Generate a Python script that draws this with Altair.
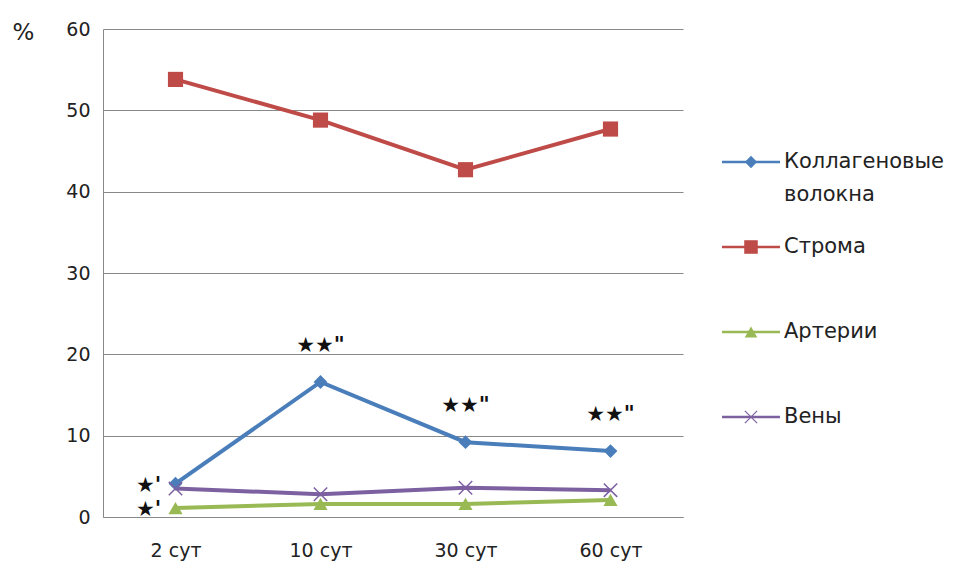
import altair as alt
import pandas as pd

categories = ["2 сут", "10 сут", "30 сут", "60 сут"]
series_names = ["Коллагеновые волокна", "Строма", "Артерии", "Вены"]
legend_line1 = ["Коллагеновые", "Строма", "Артерии", "Вены"]
legend_line2 = ["волокна", "", "", ""]
collagen = [4.1, 16.6, 9.2, 8.1]
stroma = [53.8, 48.8, 42.7, 47.7]
arteries = [1.1, 1.6, 1.6, 2.1]
veins = [3.5, 2.8, 3.6, 3.3]
colors = ["#4a7ebb", "#be4b48", "#98b954", "#7d60a0"]

top_marks_cat = ["10 сут", "30 сут", "60 сут"]
top_marks_text = ["★★\"", "★★\"", "★★\""]
left_marks_text = ["★'", "★'"]

rows = []
for name, vals in zip(series_names, [collagen, stroma, arteries, veins]):
    for i, (c, v) in enumerate(zip(categories, vals)):
        rows.append({"cat": c, "order": i, "series": name, "value": v})
df = pd.DataFrame(rows)

FONT = "DejaVu Sans"

x_enc = alt.X("cat:N", sort=categories, scale=alt.Scale(domain=categories, paddingInner=0, paddingOuter=0),
              axis=alt.Axis(title=None, labelAngle=0, ticks=False, labelPadding=24, grid=False))
y_enc = alt.Y("value:Q", scale=alt.Scale(domain=[0, 60]),
              axis=alt.Axis(values=[0, 10, 20, 30, 40, 50, 60], title="%", titleAngle=0, titleAlign="left",
                            titleBaseline="middle", titleX=-91, titleY=3, labelPadding=13, ticks=False))

color_scale = alt.Scale(domain=series_names, range=colors)
base = alt.Chart(df).encode(x=x_enc, y=y_enc)

lines = base.mark_line(strokeWidth=4).encode(
    color=alt.Color("series:N", scale=color_scale, legend=None),
    order=alt.Order("order:Q"),
)

shape_map = {"Коллагеновые волокна": ("diamond", 190), "Строма": ("square", 230), "Артерии": ("triangle-up", 200)}
X_PATH = "M-1,-1L1,1M-1,1L1,-1"
point_layers = []
for name, (shp, sz) in shape_map.items():
    point_layers.append(
        base.transform_filter(alt.datum.series == name).mark_point(shape=shp, filled=True, size=sz, opacity=1).encode(
            color=alt.Color("series:N", scale=color_scale, legend=None))
    )
point_layers.append(
    base.transform_filter(alt.datum.series == "Вены").mark_point(
        shape=X_PATH, filled=False, size=180, strokeWidth=1.5, opacity=1).encode(
        color=alt.Color("series:N", scale=color_scale, legend=None))
)

top_df = df[(df["series"] == series_names[0]) & (df["cat"].isin(top_marks_cat))].copy()
top_df["txt"] = top_marks_text
top_text = alt.Chart(top_df).mark_text(font="DejaVu Sans", fontSize=21, fontWeight="bold", dy=-36, color="#111").encode(
    x=x_enc, y=y_enc, text="txt:N")

left_df = df[(df["cat"] == categories[0]) & (df["series"].isin([series_names[0], series_names[2]]))].copy()
left_df["txt"] = left_marks_text
left_text = alt.Chart(left_df).mark_text(font="DejaVu Sans", fontSize=21, fontWeight="bold", dx=-27, dy=2, color="#111").encode(
    x=x_enc, y=y_enc, text="txt:N")

main = alt.layer(lines, *point_layers, top_text, left_text)

# Legend drawn from the series list through its own point scale
legend_df = pd.DataFrame({"series": series_names, "line1": legend_line1, "line2": legend_line2})
lg = alt.Chart(legend_df)
ly = alt.Y("series:N", sort=series_names,
           scale=alt.Scale(type="point", domain=series_names, range=[133, 388], padding=0), axis=None)
lcolor = alt.Color("series:N", scale=color_scale, legend=None)

leg_rule = lg.mark_rule(strokeWidth=2.5).encode(x=alt.value(619), x2=alt.value(677), y=ly, color=lcolor)
leg_pts = []
for name, (shp, sz) in shape_map.items():
    leg_pts.append(
        lg.transform_filter(alt.datum.series == name).mark_point(shape=shp, filled=True, size=int(sz * 0.8), opacity=1).encode(
            x=alt.value(648), y=ly, color=lcolor)
    )
leg_pts.append(
    lg.transform_filter(alt.datum.series == "Вены").mark_point(shape=X_PATH, filled=False, size=150, strokeWidth=1.2, opacity=1).encode(
        x=alt.value(648), y=ly, color=lcolor)
)
leg_text1 = lg.mark_text(align="left", baseline="middle", font=FONT, fontSize=21, color="#222").encode(
    x=alt.value(681), y=ly, text="line1:N")
leg_text2 = lg.mark_text(align="left", baseline="middle", font=FONT, fontSize=21, color="#222", dy=33).encode(
    x=alt.value(681), y=ly, text="line2:N")

legend_group = alt.layer(leg_rule, *leg_pts, leg_text1, leg_text2)

chart = alt.layer(main, legend_group).resolve_scale(y="independent").properties(
    width=580, height=488,
    background="white",
    autosize=alt.AutoSizeParams(type="none"),
    padding={"left": 103, "top": 29, "right": 275, "bottom": 58},
).configure_view(stroke=None).configure_axis(
    labelFont=FONT, labelFontSize=19, labelColor="#222", domainColor="#888", gridColor="#888",
    titleFont=FONT, titleFontSize=23, titleFontWeight="normal", titleColor="#222",
)

chart.save("out.html", embed_options={"renderer": "svg", "actions": False})
